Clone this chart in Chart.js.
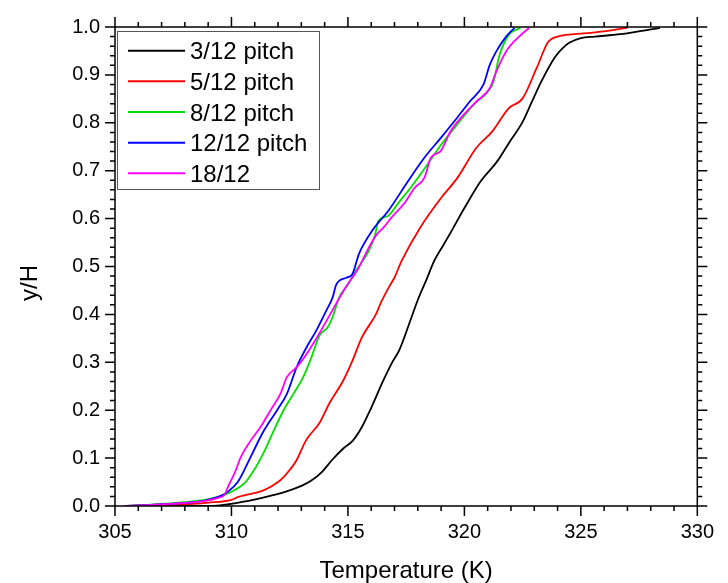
<!DOCTYPE html>
<html>
<head>
<meta charset="utf-8">
<script src="https://cdn.jsdelivr.net/npm/chart.js@4.4.1/dist/chart.umd.min.js"></script>
<style>
  html, body { margin: 0; padding: 0; background: #fff; }
  canvas { display: block; }
</style>
</head>
<body>
<canvas id="c" width="728" height="583"></canvas>
<script>
// ---- data ----
const seriesLabels = ['3/12 pitch', '5/12 pitch', '8/12 pitch', '12/12 pitch', '18/12'];
const seriesColors = ['#000000', '#ff0000', '#00e000', '#0000ff', '#ff00ff'];

const T_3 = [307.5, 309.0, 310.3, 311.4, 312.4, 313.0, 313.4, 313.9, 314.3, 314.8, 315.2, 315.6, 316.0, 316.5, 316.9, 317.2, 317.7, 318.0, 318.35, 318.7, 319.1, 319.4, 320.0, 320.7, 321.4, 321.9, 322.5, 322.9, 323.3, 323.9, 324.2, 324.5, 325.0, 325.6, 326.7, 328.4];
const Y_3 = [0, 0, 0.007, 0.018, 0.031, 0.042, 0.052, 0.072, 0.095, 0.12, 0.136, 0.165, 0.205, 0.26, 0.3, 0.325, 0.39, 0.43, 0.47, 0.511, 0.545, 0.57, 0.622, 0.678, 0.719, 0.757, 0.802, 0.844, 0.886, 0.938, 0.955, 0.967, 0.977, 0.98, 0.985, 0.998];

const T_5 = [306.5, 307.6, 309.0, 310.0, 310.3, 311.4, 312.0, 312.25, 312.5, 312.8, 313.2, 313.8, 314.2, 314.8, 315.2, 315.6, 316.2, 316.45, 316.75, 317.0, 317.3, 318.1, 319.0, 319.7, 320.5, 321.2, 321.9, 322.5, 323.1, 323.6, 324.0, 325.3, 327.0];
const Y_5 = [0, 0.002, 0.007, 0.013, 0.019, 0.033, 0.05, 0.061, 0.075, 0.096, 0.137, 0.175, 0.214, 0.262, 0.304, 0.352, 0.4, 0.428, 0.456, 0.477, 0.511, 0.581, 0.643, 0.685, 0.747, 0.782, 0.83, 0.851, 0.914, 0.969, 0.98, 0.987, 0.998];

const T_8 = [305.4, 307.2, 308.6, 309.43, 310.0, 310.55, 310.97, 311.4, 311.82, 312.24, 312.66, 313.08, 313.43, 313.78, 314.13, 314.34, 314.62, 315.04, 315.33, 315.89, 316.17, 316.3, 316.7, 317.2, 317.7, 318.3, 319.0, 319.7, 320.4, 320.95, 321.25, 321.5, 321.9, 322.4];
const Y_8 = [0, 0.005, 0.011, 0.019, 0.03, 0.047, 0.075, 0.113, 0.158, 0.2, 0.234, 0.269, 0.31, 0.356, 0.373, 0.394, 0.435, 0.465, 0.49, 0.532, 0.567, 0.595, 0.605, 0.635, 0.665, 0.705, 0.754, 0.797, 0.838, 0.862, 0.886, 0.94, 0.983, 0.998];

const T_12 = [305.4, 307.2, 308.6, 309.43, 309.85, 310.27, 310.55, 310.9, 311.4, 311.96, 312.38, 312.8, 313.22, 313.64, 314.06, 314.34, 314.5, 314.9, 315.19, 315.47, 316.03, 316.73, 317.58, 318.28, 318.98, 319.68, 320.24, 320.81, 321.09, 321.37, 321.79, 322.15];
const Y_12 = [0, 0.004, 0.009, 0.019, 0.03, 0.05, 0.075, 0.11, 0.158, 0.2, 0.234, 0.29, 0.331, 0.366, 0.407, 0.435, 0.462, 0.476, 0.484, 0.526, 0.574, 0.616, 0.678, 0.727, 0.768, 0.81, 0.845, 0.879, 0.921, 0.949, 0.98, 0.998];

const T_18 = [305.4, 307.2, 308.6, 309.43, 309.71, 309.85, 310.0, 310.13, 310.41, 310.83, 311.25, 311.68, 312.1, 312.38, 312.8, 313.08, 313.5, 313.92, 314.48, 314.9, 315.47, 315.89, 316.24, 316.52, 316.87, 317.44, 317.86, 318.28, 318.56, 318.98, 319.4, 319.97, 320.53, 321.09, 321.37, 321.79, 322.35, 322.77];
const Y_18 = [0, 0.004, 0.009, 0.017, 0.024, 0.04, 0.055, 0.068, 0.103, 0.137, 0.165, 0.2, 0.234, 0.269, 0.29, 0.307, 0.338, 0.373, 0.421, 0.456, 0.498, 0.539, 0.567, 0.581, 0.602, 0.633, 0.664, 0.685, 0.727, 0.741, 0.782, 0.817, 0.845, 0.872, 0.907, 0.949, 0.98, 0.998];

const xMin = 305, xMax = 330, xMajorStep = 5, xMinorStep = 1;
const yMin = 0, yMax = 1, yMajorStep = 0.1, yMinorStep = 0.02;
const xTitle = 'Temperature (K)';
const yTitle = 'y/H';

// ---- build datasets ----
const seriesT = [T_3, T_5, T_8, T_12, T_18];
const seriesY = [Y_3, Y_5, Y_8, Y_12, Y_18];
const FONT = "'Liberation Sans', Arial, Helvetica, sans-serif";

const datasets = seriesLabels.map((label, i) => ({
  label,
  data: seriesT[i].map((t, k) => ({ x: t, y: seriesY[i][k] })),
  showLine: true,
  borderColor: seriesColors[i],
  backgroundColor: seriesColors[i],
  borderWidth: 1.8,
  pointRadius: 0,
  cubicInterpolationMode: 'monotone',
  fill: false,
  order: seriesLabels.length - 1 - i
}));

// frame + ticks on all four sides, drawn through the scales
const framePlugin = {
  id: 'frame',
  afterDraw(chart) {
    const { ctx, chartArea: a, scales: { x, y } } = chart;
    ctx.save();
    ctx.strokeStyle = '#000';
    ctx.lineWidth = 1.5;
    ctx.beginPath();
    ctx.rect(a.left, a.top, a.right - a.left, a.bottom - a.top);
    ctx.stroke();
    const major = 10, minor = 5;
    ctx.beginPath();
    const nx = Math.round((xMax - xMin) / xMinorStep);
    for (let k = 0; k <= nx; k++) {
      const v = xMin + k * xMinorStep;
      const isMajor = Math.abs((v - xMin) / xMajorStep - Math.round((v - xMin) / xMajorStep)) < 1e-6;
      const len = isMajor ? major : minor;
      const px = x.getPixelForValue(v);
      ctx.moveTo(px, a.bottom); ctx.lineTo(px, a.bottom + len);
      ctx.moveTo(px, a.top); ctx.lineTo(px, a.top - len);
    }
    const ny = Math.round((yMax - yMin) / yMinorStep);
    for (let k = 0; k <= ny; k++) {
      const v = yMin + k * yMinorStep;
      const isMajor = k % Math.round(yMajorStep / yMinorStep) === 0;
      const len = isMajor ? major : minor;
      const py = y.getPixelForValue(v);
      ctx.moveTo(a.left, py); ctx.lineTo(a.left - len, py);
      ctx.moveTo(a.right, py); ctx.lineTo(a.right + len, py);
    }
    ctx.stroke();

    // y axis title
    ctx.fillStyle = '#000';
    ctx.font = '24px ' + FONT;
    ctx.textAlign = 'center';
    ctx.textBaseline = 'middle';
    ctx.translate(30, 283);
    ctx.rotate(-Math.PI / 2);
    ctx.fillText(yTitle, 0, 0);
    ctx.restore();

    // legend
    ctx.save();
    const bx = a.left + 2, by = 31, bw = 202, bh = 158;
    ctx.fillStyle = '#fff';
    ctx.fillRect(bx, by, bw, bh);
    ctx.strokeStyle = '#555';
    ctx.lineWidth = 1;
    ctx.strokeRect(bx + 0.5, by + 0.5, bw, bh);
    ctx.font = '24px ' + FONT;
    ctx.textAlign = 'left';
    ctx.textBaseline = 'alphabetic';
    chart.data.datasets.forEach((ds, i) => {
      const ry = 50.7 + i * 30.65;
      ctx.strokeStyle = ds.borderColor;
      ctx.lineWidth = 2;
      ctx.beginPath();
      ctx.moveTo(128, ry); ctx.lineTo(185, ry);
      ctx.stroke();
      ctx.fillStyle = '#000';
      ctx.fillText(ds.label, 190, ry + 8.5);
    });
    ctx.restore();
  }
};

new Chart(document.getElementById('c'), {
  type: 'scatter',
  data: { datasets },
  options: {
    responsive: false,
    animation: false,
    devicePixelRatio: 1,
    layout: { padding: { left: 0, right: 20, top: 25, bottom: 0 } },
    plugins: { legend: { display: false }, tooltip: { enabled: false } },
    scales: {
      x: {
        type: 'linear', min: xMin, max: xMax,
        ticks: { stepSize: xMajorStep, color: '#000', font: { size: 20, family: FONT }, padding: 14, maxRotation: 0, autoSkip: false,
                 callback: v => String(Math.round(v)) },
        grid: { display: false, drawTicks: false },
        border: { display: false },
        title: { display: true, text: xTitle, color: '#000', font: { size: 24, family: FONT, lineHeight: 1 }, padding: { top: 0, bottom: 0 } },
        afterFit(s) { s.height = 77; }
      },
      y: {
        type: 'linear', min: yMin, max: yMax,
        ticks: { stepSize: yMajorStep, color: '#000', font: { size: 20, family: FONT }, padding: 15,
                 callback: v => Number(v).toFixed(1) },
        grid: { display: false, drawTicks: false },
        border: { display: false },
        title: { display: false },
        afterFit(s) { s.width = 115; }
      }
    }
  },
  plugins: [framePlugin]
});
</script>
</body>
</html>
